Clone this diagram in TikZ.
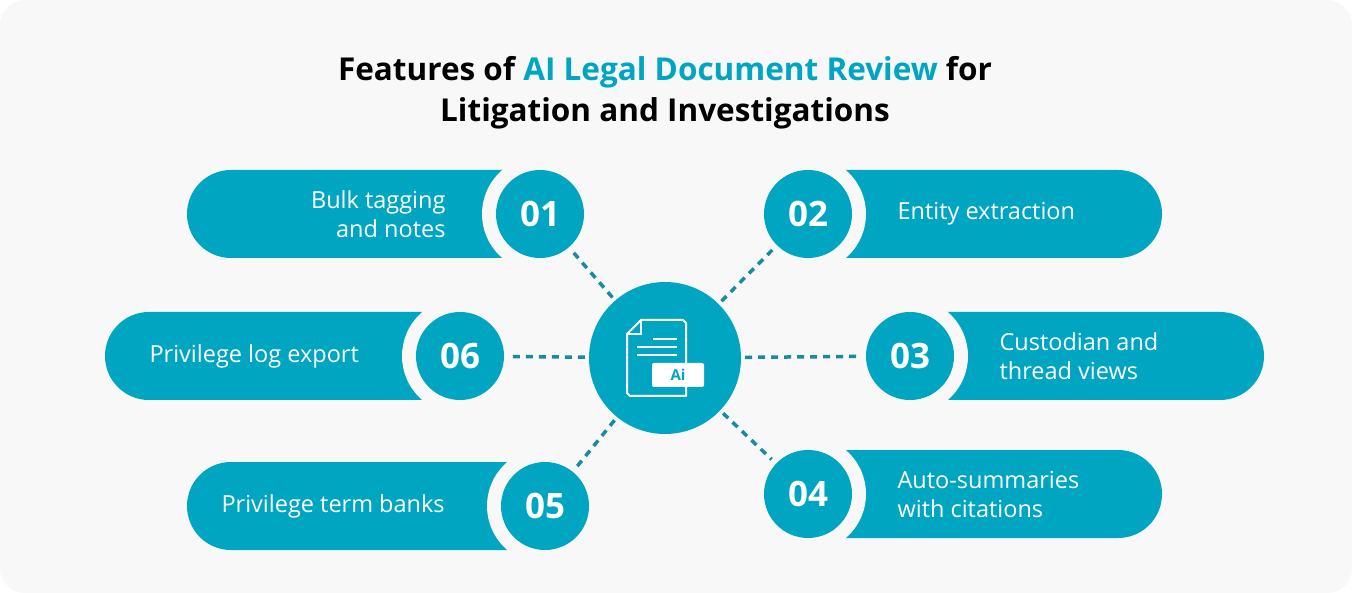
\documentclass[tikz,border=0pt]{standalone}
\usepackage{fontspec}
\setmainfont{Open Sans}
\definecolor{teal1}{HTML}{00A5C2}
\definecolor{tealdark}{HTML}{1B8AA0}
\definecolor{bgcol}{HTML}{F8F8F8}
\tikzset{
  pill/.style={fill=teal1},
  num/.style={circle,fill=teal1,minimum size=88pt,inner sep=0pt,text=white,font=\bfseries\fontsize{35}{35}\selectfont},
  ring/.style={circle,fill=bgcol,minimum size=116pt,inner sep=0pt},
  label/.style={text=white,font=\fontsize{23.5}{29}\selectfont,align=left},
  link/.style={tealdark,line width=3.5pt,dash pattern=on 7pt off 6pt,shorten <=4pt,shorten >=6pt},
}
\begin{document}
\begin{tikzpicture}[x=1pt,y=-1pt]
\fill[bgcol,rounded corners=25pt] (0,0) rectangle (1352,593);
\useasboundingbox (0,0) rectangle (1352,593);

% title
\node[font=\bfseries\fontsize{31.5}{41}\selectfont,align=center] (title) at (665,93)
  {Features of \textcolor{teal1}{AI Legal Document Review} for\\Litigation and Investigations};

% pills
\fill[pill,rounded corners=44pt] (187,170) rectangle (580,258);
\fill[pill,rounded corners=44pt] (768,170) rectangle (1162,258);
\fill[pill,rounded corners=44pt] (105,312) rectangle (500,400);
\fill[pill,rounded corners=44pt] (870,312) rectangle (1264,400);
\fill[pill,rounded corners=44pt] (187,462) rectangle (585,550);
\fill[pill,rounded corners=44pt] (768,450) rectangle (1162,538);

% number circles
\foreach \n/\x/\y in {01/540/214,02/808/214,06/460/356,03/910/356,05/545/506,04/808/494}{
  \node[ring] at (\x,\y) {};
  \node[num] (n\n) at (\x,\y) {\n};
}

% texts
\node[label,align=right,anchor=east] (t01) at (449,214) {Bulk tagging\\and notes};
\node[label,anchor=west] (t02) at (894,214) {Entity extraction};
\node[label,anchor=west] (t06) at (146,356) {Privilege log export};
\node[label,anchor=west] (t03) at (996,356) {Custodian and\\thread views};
\node[label,anchor=west] (t05) at (218,506) {Privilege term banks};
\node[label,anchor=west] (t04) at (894,494) {Auto-summaries\\with citations};

% centre
\node[circle,fill=teal1,minimum size=152pt,inner sep=0pt] (hub) at (665,358) {};
\draw[white,line width=2pt,line join=round]
  (641,320) -- (683,320) -- (686,323) -- (686,396) -- (630,396) -- (627,393) -- (627,334) -- cycle;
\draw[white,line width=2pt] (641,320) -- (641,334) -- (627,334);
\draw[white,line width=2pt] (653,339) -- (677,339) (637,347) -- (677,347) (637,355) -- (677,355);
\fill[white,rounded corners=2pt] (652,363) rectangle (704,387);
\node[text=teal1,font=\bfseries\fontsize{15}{15}\selectfont] (ai) at (678,375) {Ai};

% connectors
\foreach \n in {01,02,06,03,05,04}
  \draw[link] (hub) -- (n\n);
\end{tikzpicture}
\end{document}
